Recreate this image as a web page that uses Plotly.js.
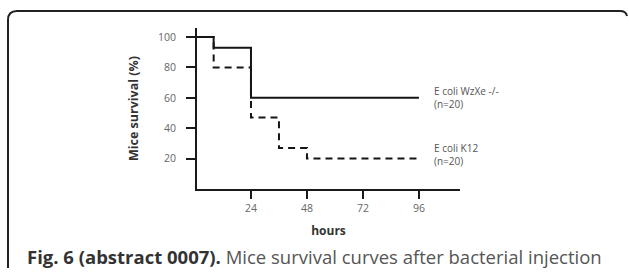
<!DOCTYPE html>
<html>
<head>
<meta charset="utf-8">
<script src="https://cdn.plot.ly/plotly-3.0.1.min.js"></script>
<style>
html,body{margin:0;padding:0;background:#fff;}
#chart{width:629px;height:273px;}
</style>
</head>
<body>
<div id="chart"></div>
<script>
// Data (Kaplan–Meier style step curves)
const hoursWzXe = [0, 8, 24, 96];
const survivalWzXe = [100, 93, 60, 60];
const hoursK12 = [0, 8, 24, 36, 48, 96];
const survivalK12 = [100, 80, 47, 27, 20, 20];
const xTicks = [24, 48, 72, 96];
const yTicks = [20, 40, 60, 80, 100];
const seriesNames = ["E coli WzXe -/-<br>(n=20)", "E coli K12<br>(n=20)"];

const W = 629, H = 273;
const L = 197, R = 460, T = 28, B = 189;
const px = x => (x - L) / (R - L);
const py = y => (B - y) / (B - T);

const traces = [
  {x: hoursWzXe, y: survivalWzXe, mode: 'lines', line: {shape: 'hv', color: '#151515', width: 2}, name: 'WzXe', hoverinfo: 'skip'},
  {x: hoursK12, y: survivalK12, mode: 'lines', line: {shape: 'hv', color: '#151515', width: 2, dash: '7px,5px'}, name: 'K12', hoverinfo: 'skip'}
];

const frame = `M ${px(8)} ${py(268)} L ${px(8)} ${py(20)} Q ${px(8)} ${py(11)} ${px(17)} ${py(11)} L ${px(620)} ${py(11)} Q ${px(626)} ${py(11)} ${px(627)} ${py(16)}`;

const layout = {
  width: W, height: H,
  margin: {l: L, r: W - R, t: T, b: H - B, pad: 0},
  paper_bgcolor: '#fff', plot_bgcolor: '#fff',
  showlegend: false,
  font: {family: 'Open Sans, sans-serif', color: '#333'},
  xaxis: {
    range: [0.86, 113.6], tickvals: xTicks, ticktext: xTicks.map(String),
    showgrid: false, zeroline: false, showline: true, linecolor: '#1a1a1a', linewidth: 2,
    ticks: 'outside', ticklen: 8, tickwidth: 2, tickcolor: '#1a1a1a',
    tickfont: {size: 10.5, color: '#666'},
    title: {text: '<b>hours</b>', font: {size: 12, color: '#333'}, standoff: 13}
  },
  yaxis: {
    range: [0, 106], tickvals: yTicks, ticktext: yTicks.map(String),
    showgrid: false, zeroline: false, showline: true, linecolor: '#1a1a1a', linewidth: 2,
    ticks: 'outside', ticklen: 9, tickwidth: 2, tickcolor: '#1a1a1a',
    ticklabelstandoff: 8,
    tickfont: {size: 10.5, color: '#666'},
    title: {text: '<b>Mice survival (%)</b>', font: {size: 12.5, color: '#333'}, standoff: 17}
  },
  shapes: [
    {type: 'path', xref: 'paper', yref: 'paper', path: frame, line: {color: '#222', width: 2}}
  ],
  annotations: [
    {xref: 'paper', yref: 'paper', x: px(432), y: py(97), xanchor: 'left', yanchor: 'middle', align: 'left', showarrow: false,
     text: seriesNames[0], font: {size: 10, color: '#555'}},
    {xref: 'paper', yref: 'paper', x: px(432), y: py(154), xanchor: 'left', yanchor: 'middle', align: 'left', showarrow: false,
     text: seriesNames[1], font: {size: 10, color: '#555'}},
    {xref: 'paper', yref: 'paper', x: px(25), y: py(256), xanchor: 'left', yanchor: 'middle', align: 'left', showarrow: false,
     text: '<b>Fig. 6 (abstract 0007).</b> <span style="color:#555">Mice survival curves after bacterial injection</span>',
     font: {size: 18.5, color: '#333'}}
  ]
};

Plotly.newPlot('chart', traces, layout, {staticPlot: true, displayModeBar: false});
</script>
</body>
</html>
